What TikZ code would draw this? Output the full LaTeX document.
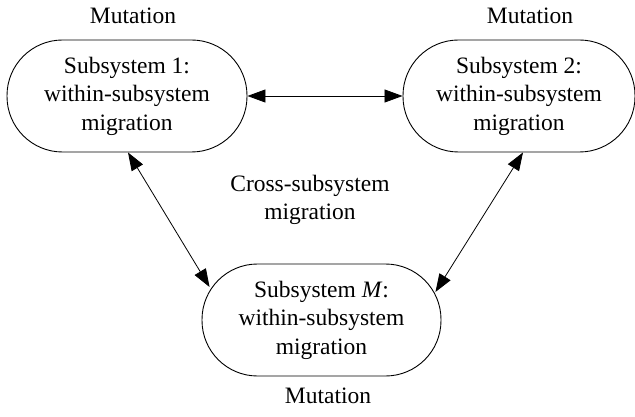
\documentclass[tikz,border=0pt]{standalone}
\usepackage{fontspec}
\setmainfont{Liberation Serif}
\usetikzlibrary{arrows.meta}
\begin{document}
\begin{tikzpicture}[x=1pt,y=-1pt,
  txt/.style={font=\fontsize{23.5}{28.5}\selectfont},
  sub/.style={txt, draw, line width=0.9pt, rounded corners=55.5pt, minimum width=240pt, minimum height=112pt, align=center, inner sep=0pt},
  lbl/.style={txt, align=center, inner sep=0pt},
  conn/.style={line width=0.8pt, {Triangle[length=18pt,width=13pt]}-{Triangle[length=18pt,width=13pt]}}]
\useasboundingbox (0,0) rectangle (635,417);
\node[sub] (n1) at (127,96) {Subsystem 1:\\within-subsystem\\migration};
\node[sub, minimum width=232pt] (n2) at (519,96) {Subsystem 2:\\within-subsystem\\migration};
\node[sub, minimum width=239pt] (nM) at (321.5,320) {Subsystem \textit{M}:\\within-subsystem\\migration};
\node[lbl] (m1) at (133,16) {Mutation};
\node[lbl] (m2) at (530,16) {Mutation};
\node[lbl] (m3) at (328,396) {Mutation};
\node[lbl] (cross) at (310,200) {Cross-subsystem\\migration};
\draw[conn] (n1.east) -- (n2.west);
\draw[conn] ([xshift=1pt]n1.south) -- ([shift={(8,-33)}]nM.west);
\draw[conn] ([xshift=4pt]n2.south) -- ([shift={(-6,-28)}]nM.east);
\end{tikzpicture}
\end{document}
